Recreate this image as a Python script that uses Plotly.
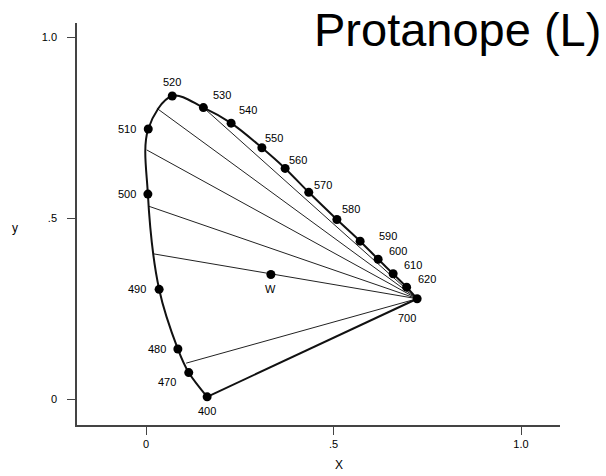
import plotly.graph_objects as go

# Spectrum locus (wavelength in nm)
wavelengths = [400, 470, 480, 490, 500, 510, 520, 530, 540, 550, 560, 570, 580, 590, 600, 610, 620, 700]
locus_x = [0.163, 0.114, 0.085, 0.035, 0.005, 0.006, 0.070, 0.153, 0.227, 0.309, 0.371, 0.434, 0.509, 0.571, 0.619, 0.659, 0.695, 0.723]
locus_y = [0.006, 0.073, 0.138, 0.303, 0.566, 0.746, 0.837, 0.805, 0.762, 0.694, 0.637, 0.571, 0.496, 0.436, 0.386, 0.346, 0.309, 0.277]

# White point
white_x = [0.333]
white_y = [0.344]

# Confusion lines: start points on the locus, all ending at the 700 nm point
conf_start_x = [0.029, 0.153, 0.002, 0.006, 0.020, 0.107]
conf_start_y = [0.803, 0.805, 0.688, 0.533, 0.401, 0.099]

tick_vals = [0, 0.5, 1.0]
tick_text = ["0", ".5", "1.0"]

# label offsets in pixels (style)
label_offsets = {
    400: (0, -14), 470: (-22, -9), 480: (-21, 0), 490: (-22, 0), 500: (-21, 0),
    510: (-21, 0), 520: (0, 14), 530: (19, 13), 540: (17, 13), 550: (12, 10),
    560: (13, 8), 570: (14, 7), 580: (14, 10), 590: (28, 5), 600: (20, 8),
    610: (20, 9), 620: (20, 8), 700: (-10, -19),
}

font_family = "Liberation Sans, Arial, sans-serif"

fig = go.Figure()

end_x = locus_x[wavelengths.index(700)]
end_y = locus_y[wavelengths.index(700)]
cx, cy = [], []
for sx, sy in zip(conf_start_x, conf_start_y):
    cx += [sx, end_x, None]
    cy += [sy, end_y, None]
fig.add_trace(go.Scatter(x=cx, y=cy, mode="lines",
                         line=dict(color="#222222", width=1), hoverinfo="skip"))

# Purple line 700 -> 400
fig.add_trace(go.Scatter(x=[locus_x[-1], locus_x[0]], y=[locus_y[-1], locus_y[0]],
                         mode="lines", line=dict(color="#111111", width=2)))

# Spectrum locus
fig.add_trace(go.Scatter(x=locus_x, y=locus_y, mode="lines+markers",
                         line=dict(color="#111111", width=2, shape="spline", smoothing=1.0),
                         marker=dict(color="#000000", size=9)))

fig.add_trace(go.Scatter(x=white_x, y=white_y, mode="markers",
                         marker=dict(color="#000000", size=9)))

for w, x, y in zip(wavelengths, locus_x, locus_y):
    dx, dy = label_offsets[w]
    fig.add_annotation(x=x, y=y, text=str(w), showarrow=False, xshift=dx, yshift=dy,
                       font=dict(family=font_family, size=11, color="#000000"))

fig.add_annotation(x=white_x[0], y=white_y[0], text="W", showarrow=False, yshift=-15,
                   font=dict(family=font_family, size=11, color="#000000"))

fig.add_annotation(xref="paper", yref="paper", x=1.089, y=0.985, text="Protanope (L)",
                   showarrow=False, xanchor="right", yanchor="middle",
                   font=dict(family=font_family, size=47, color="#000000"))

fig.add_annotation(xref="paper", yref="paper", x=-0.128, y=0.49, text="y",
                   showarrow=False, xanchor="center", yanchor="middle",
                   font=dict(family=font_family, size=12, color="#000000"))

fig.add_annotation(xref="paper", yref="paper", x=0.542, y=-0.1, text="X",
                   showarrow=False, xanchor="center", yanchor="middle",
                   font=dict(family=font_family, size=12, color="#000000"))

axis_common = dict(showgrid=False, zeroline=False, showline=True, linecolor="#444444",
                   linewidth=1.5, ticks="outside", ticklen=8, tickcolor="#444444",
                   tickwidth=1.2, tickvals=tick_vals, ticktext=tick_text,
                   tickfont=dict(family=font_family, size=11, color="#000000"))

fig.update_layout(
    width=606, height=476,
    margin=dict(l=77, r=46, t=23, b=51),
    paper_bgcolor="white", plot_bgcolor="white",
    showlegend=False,
    xaxis=dict(range=[-0.184, 1.104], **axis_common),
    yaxis=dict(range=[-0.0718, 1.0387], ticklabelstandoff=8, **axis_common),
)

fig.write_html("out.html")
